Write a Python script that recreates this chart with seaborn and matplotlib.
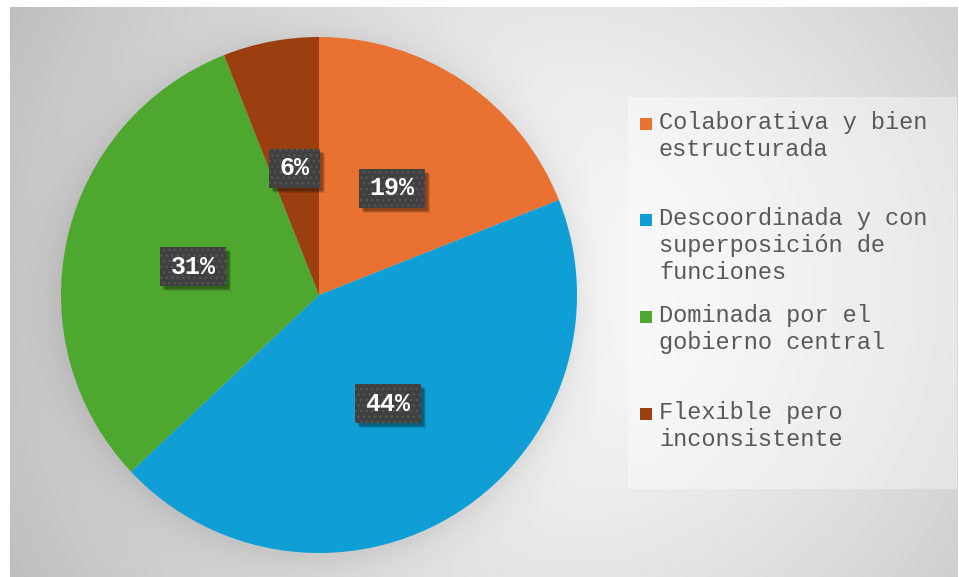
import numpy as np
import matplotlib
matplotlib.use("Agg")
import matplotlib.pyplot as plt
import matplotlib.transforms as mtransforms
from matplotlib.patches import Rectangle
import seaborn as sns

# Survey answers and their share of respondents (%)
categories = [
    "Colaborativa y bien\nestructurada",
    "Descoordinada y con\nsuperposición de\nfunciones",
    "Dominada por el\ngobierno central",
    "Flexible pero\ninconsistente",
]
shares = [19, 44, 31, 6]
colors = ["#E97132", "#0F9ED5", "#4EA72E", "#9C3F10"]

sns.set_theme(style="white")
plt.rcParams["font.family"] = ["Liberation Mono", "DejaVu Sans"]

W, H = 959, 577
fig = plt.figure(figsize=(W / 100, H / 100), dpi=100)
fig.patch.set_facecolor("white")

# ---- background panel: radial grey gradient with a soft halo around the pie
bg = fig.add_axes([0, 0, 1, 1], zorder=0)
bg.set_xlim(0, W)
bg.set_ylim(H, 0)
bg.axis("off")

x0, x1, y0, y1 = 10, 958, 7, 577
yy, xx = np.mgrid[y0:y1, x0:x1] + 0.5
d = np.hypot(xx - 560, yy - 290)
v = 250 - 60 * np.clip(d / 620, 0, 1.2) ** 1.4
cx, cy, r = 319, 295, 258
dp = np.hypot(xx - cx, yy - cy - 4)
v = v - 20 * np.where(dp > r, np.exp(-(dp - r) / 20.0), 1.0)
img = np.clip(np.dstack([v, v, v]) / 255, 0, 1)
bg.imshow(img, extent=(x0, x1, y1, y0), interpolation="bilinear", aspect="auto")

# legend panel
bg.add_patch(Rectangle((628, 97), 329, 392, facecolor="white", alpha=0.38,
                       edgecolor="none"))

# ---- pie
ax = fig.add_axes([61 / W, (H - 553) / H, 516 / W, 516 / H], zorder=2)
wedges, _ = ax.pie(shares, colors=colors, startangle=90, counterclock=False,
                   radius=1, wedgeprops=dict(linewidth=0))
ax.set_xlim(-1, 1)
ax.set_ylim(-1, 1)
ax.set_aspect("equal")
ax.axis("off")
ax.patch.set_visible(False)

# value labels: dark dotted boxes sized to the text, with a soft drop shadow
bh = 39
for w, s in zip(wedges, shares):
    label = f"{s}%"
    bw = 15 * len(label) + 21
    th = np.deg2rad((w.theta1 + w.theta2) / 2)
    px, py = 0.5 * np.cos(th), 0.5 * np.sin(th)
    anchor = mtransforms.ScaledTranslation(px, py, ax.transData)
    pix = mtransforms.Affine2D()
    for k, a in [(5, 0.10), (4, 0.15), (3, 0.2)]:
        ax.add_patch(Rectangle((-bw / 2 + k, -bh / 2 - k), bw, bh,
                               transform=pix + anchor, facecolor="black",
                               alpha=a, linewidth=0, zorder=3))
    ax.add_patch(Rectangle((-bw / 2, -bh / 2), bw, bh, transform=pix + anchor,
                           facecolor="#404040", edgecolor="#565656", hatch="...",
                           linewidth=0, zorder=4))
    ax.text(px, py, label, ha="center", va="center", fontsize=18,
            fontweight="bold", color="white", zorder=5)

# ---- legend entries
first_baselines = [129, 225, 322, 419]
for lab, col, yb in zip(categories, colors, first_baselines):
    bg.add_patch(Rectangle((640, yb - 11), 12, 12, facecolor=col, edgecolor="none"))
    for k, line in enumerate(lab.split("\n")):
        bg.text(659, yb + 27 * k, line, ha="left", va="baseline", fontsize=17,
                color="#595959")

fig.savefig("out.png", dpi=100)
